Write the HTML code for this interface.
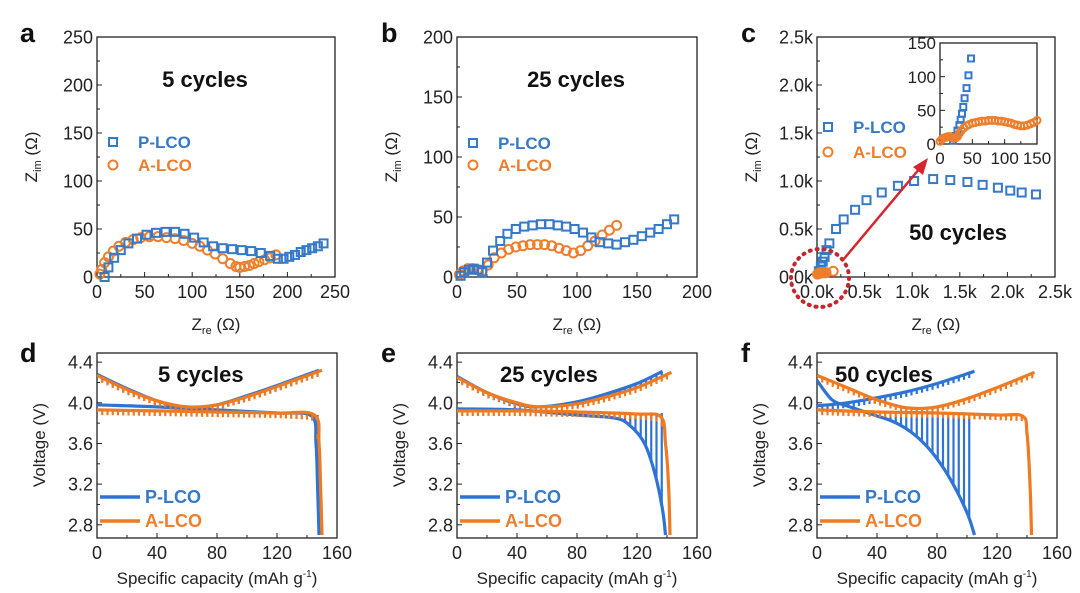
<!DOCTYPE html>
<html><head><meta charset="utf-8"><style>
html,body{margin:0;padding:0;background:#fff;}
svg{display:block;font-family:"Liberation Sans",Arial,sans-serif;}
</style></head><body>
<svg id="fig" width="1080" height="593" viewBox="0 0 1080 593" xmlns="http://www.w3.org/2000/svg">
<rect width="1080" height="593" fill="#fff"/>
</svg>
<script>
// ---------- DATA ----------
// Panel a (5 cycles EIS)
const aPx=[8,12,18,25,33,42,52,62,72,82,92,102,112,122,132,142,152,162,172,182,190,196,202,208,214,220,226,232,238];
const aPy=[0,10,20,28,35,40,44,46,47,47,45,41,36,32,30,29,28,27,25,22,19,19,21,23,26,28,30,32,35];
const aAx=[3,5,8,12,17,23,30,38,46,55,64,73,82,91,100,108,116,124,132,140,146,150,155,160,165,170,176,182,188];
const aAy=[3,8,15,21,27,32,36,39,41,42,42,41,40,38,35,32,28,24,19,14,11,10,11,12,14,16,18,20,23];
// Panel b (25 cycles EIS)
const bPx=[3,6,10,14,18,21,25,30,36,42,49,56,63,70,77,84,91,98,105,112,119,126,133,140,147,154,161,168,175,181];
const bPy=[1,4,6,7,6,4,12,22,30,36,40,42,43,44,44,43,42,40,37,33,29,28,27,29,31,34,37,40,44,48];
const bAx=[2,5,9,13,17,21,26,31,37,43,49,55,61,67,73,79,85,91,97,103,109,115,121,127,133];
const bAy=[2,5,7,7,6,5,10,16,20,23,25,26,27,27,27,26,24,22,20,22,26,30,35,39,43];
// Panel c (50 cycles EIS, main)
const cPx=[20,40,60,80,100,130,200,280,400,520,680,850,1020,1220,1400,1580,1740,1900,2030,2150,2300];
const cPy=[60,110,160,210,280,350,500,600,700,800,880,950,1000,1020,1010,990,960,930,900,880,860];
const cAx=[5,15,25,35,45,55,65,75,85,95,170];
const cAy=[30,35,40,45,45,45,45,45,45,45,60];
// Panel c inset
const iPx=[20,24,27,30,32,34,36,38,41,44,48];
const iPy=[5,12,20,28,36,45,55,68,83,102,127];
const iAx=[0,3,6,9,12,15,18,21,24,27,30,33,37,41,45,50,55,60,65,70,75,80,85,90,95,100,105,110,115,120,125,130,135,140,145,150];
const iAy=[4,7,9,10,11,11,10,9,9,11,16,20,24,27,29,31,32,33,34,34,35,35,35,34,34,33,32,31,29,28,27,27,28,30,32,35];
// Panel d (5 cycles GITT)
const dBuX=[0,20,40,60,80,100,120,148], dBuY=[4.28,4.14,4.02,3.95,3.98,4.07,4.17,4.32];
const dBfX=[0,40,80,120,143,146,147,148], dBfY=[3.98,3.96,3.93,3.9,3.87,3.6,3.2,2.7];
const dAuX=[0,20,40,60,80,100,120,150], dAuY=[4.27,4.13,4.02,3.96,3.98,4.06,4.16,4.32];
const dAfX=[0,40,80,120,145,148,149,150], dAfY=[3.93,3.92,3.91,3.9,3.88,3.6,3.2,2.7];
// Panel e (25 cycles GITT)
const eBuX=[0,20,40,55,80,100,120,137], eBuY=[4.26,4.1,3.99,3.96,4.01,4.09,4.19,4.31];
const eBfX=[0,40,80,105,115,125,132,137,139], eBfY=[3.94,3.93,3.88,3.85,3.78,3.6,3.3,2.95,2.7];
const eAuX=[0,20,40,55,80,100,120,143], eAuY=[4.25,4.1,4.0,3.96,3.99,4.06,4.15,4.3];
const eAfX=[0,40,80,120,136,139,141,142], eAfY=[3.92,3.92,3.91,3.89,3.86,3.6,3.2,2.7];
// Panel f (50 cycles GITT)
const fBuX=[0,20,40,60,80,105], fBuY=[3.97,4.0,4.05,4.11,4.19,4.31];
const fBfX=[0,10,20,30,40,50,60,70,80,90,100,105], fBfY=[4.22,4.03,3.97,3.92,3.87,3.82,3.74,3.62,3.45,3.22,2.92,2.7];
const fAuX=[0,20,40,60,80,100,120,145], fAuY=[4.27,4.15,4.03,3.95,3.96,4.04,4.15,4.3];
const fAfX=[0,40,80,120,137,140,142,143], fAfY=[3.93,3.91,3.9,3.88,3.87,3.7,3.2,2.7];
const gittXT=[0,40,80,120,160];
const gittXL=["0","40","80","120","160"];
const gittYT=[2.8,3.2,3.6,4.0,4.4];
const gittYL=["2.8","3.2","3.6","4.0","4.4"];
const relaxB=[3.88,3.9,3.86]; // relaxed OCV tips for discharge spikes (d,e,f) blue
// ---------- HELPERS ----------
const NS="http://www.w3.org/2000/svg", svg=document.getElementById('fig');
const BLUE="#3579c8", ORANGE="#ee7e2d", LB="#2f74d4", LO="#ee7a22";
function el(tag,at,parent){const e=document.createElementNS(NS,tag);for(const k in at)e.setAttribute(k,at[k]);(parent||svg).appendChild(e);return e;}
function txt(s,x,y,size,opt){opt=opt||{};const t=el('text',{x:x,y:y,'font-size':size,fill:opt.fill||'#111','text-anchor':opt.anchor||'start','font-weight':opt.bold?'bold':'normal'});if(opt.rot)t.setAttribute('transform','rotate(-90 '+x+' '+y+')');t.textContent=s;return t;}
function scale(d0,d1,p0,p1){return v=>p0+(v-d0)/(d1-d0)*(p1-p0);}
function interp(xs,ys,x){for(let i=1;i<xs.length;i++){if(x<=xs[i]){const t=(x-xs[i-1])/(xs[i]-xs[i-1]);return ys[i-1]+t*(ys[i]-ys[i-1]);}}return ys[ys.length-1];}
function axes(name,L,R,T,B,sx,sy,xt,xl,yt,yl,fs,minorX,minorY){
  const g=el('g',{});
  
  
  el('rect',{x:L,y:T,width:R-L,height:B-T,fill:'none',stroke:'#222','stroke-width':1.3},g);
  xt.forEach((v,i)=>{const x=sx(v);el('line',{x1:x,y1:B,x2:x,y2:B-5,stroke:'#222'},g);const t=txt(xl[i],x,B+fs+3,fs,{anchor:'middle',fill:'#222'});});
  yt.forEach((v,i)=>{const y=sy(v);el('line',{x1:L,y1:y,x2:L+5,y2:y,stroke:'#222'},g);const t=txt(yl[i],L-4,y+fs*0.36,fs,{anchor:'end',fill:'#222'});});
  if(minorX)for(let i=0;i<xt.length-1;i++){const x=sx((xt[i]+xt[i+1])/2);el('line',{x1:x,y1:B,x2:x,y2:B-3,stroke:'#222'},g);}
  if(minorY)for(let i=0;i<yt.length-1;i++){const y=sy((yt[i]+yt[i+1])/2);el('line',{x1:L,y1:y,x2:L+3,y2:y,stroke:'#222'},g);}
}
function squares(name,xs,ys,sx,sy,s){const g=el('g',{});xs.forEach((v,i)=>{el('rect',{x:sx(v)-s/2,y:sy(ys[i])-s/2,width:s,height:s,fill:'none',stroke:BLUE,'stroke-width':2},g);});}
function circles(name,xs,ys,sx,sy,r){const g=el('g',{});xs.forEach((v,i)=>{el('circle',{cx:sx(v),cy:sy(ys[i]),r:r,fill:'none',stroke:ORANGE,'stroke-width':2},g);});}
function smoothPath(P){let d='M'+P[0][0].toFixed(1)+' '+P[0][1].toFixed(1);for(let i=0;i<P.length-1;i++){const p0=P[Math.max(0,i-1)],p1=P[i],p2=P[i+1],p3=P[Math.min(P.length-1,i+2)];const c1=[p1[0]+(p2[0]-p0[0])/6,p1[1]+(p2[1]-p0[1])/6],c2=[p2[0]-(p3[0]-p1[0])/6,p2[1]-(p3[1]-p1[1])/6];d+='C'+c1.map(v=>v.toFixed(1)).join(' ')+' '+c2.map(v=>v.toFixed(1)).join(' ')+' '+p2[0].toFixed(1)+' '+p2[1].toFixed(1);}return d;}
function line(name,xs,ys,sx,sy,col,w){const P=xs.map((v,i)=>[sx(v),sy(ys[i])]);const p=el('path',{d:smoothPath(P),fill:'none',stroke:col,'stroke-width':w||3.2,'stroke-linejoin':'round'});}
function spikes(name,xs,ys,sx,sy,col,step,tip,down,xmax){const g=el('g',{});for(let c=step;c<xmax;c+=step){const v=interp(xs,ys,c);const v2=tip===null?v+(down?-0.05:0.05):Math.max(tip,v);el('line',{x1:sx(c),y1:sy(v),x2:sx(c),y2:sy(v2),stroke:col,'stroke-width':2.2},g);}}
// ---------- PANEL LETTERS ----------
[['a',20,42],['b',381,42],['c',741,42],['d',20,362],['e',381,362],['f',741,362]].forEach(p=>{const t=txt(p[0],p[1],p[2],27,{bold:true});});
// ---------- EIS PANELS ----------
function eisTitles(name,L,R,T,B){
  const cx=(L+R)/2;
  const t=el('text',{x:cx,y:B+53,'font-size':17,'text-anchor':'middle',fill:'#222'});
  
  t.innerHTML='Z<tspan font-size="11" dy="4">re</tspan><tspan dy="-4"> (Ω)</tspan>';
  const cy=(T+B)/2, x=L-60;
  const t2=el('text',{x:x,y:cy,'font-size':17,'text-anchor':'middle',fill:'#222',transform:'rotate(-90 '+x+' '+cy+')'});
  
  t2.innerHTML='Z<tspan font-size="11" dy="4">im</tspan><tspan dy="-4"> (Ω)</tspan>';
}
function eisLegend(name,x,y1,y2){
  const g=el('g',{});
  el('rect',{x:x-4,y:y1-4,width:8,height:8,fill:'none',stroke:BLUE,'stroke-width':2},g);
  el('circle',{cx:x,cy:y2,r:4.5,fill:'none',stroke:ORANGE,'stroke-width':2},g);
  const t1=txt('P-LCO',x+25,y1+6,17,{bold:true,fill:BLUE});
  const t2=txt('A-LCO',x+25,y2+6,17,{bold:true,fill:ORANGE});
}
// a
{const L=97,R=335,T=37,B=277;const sx=scale(0,250,L,R),sy=scale(0,250,B,T);
 axes('panel-a',L,R,T,B,sx,sy,[0,50,100,150,200,250],["0","50","100","150","200","250"],[0,50,100,150,200,250],["0","50","100","150","200","250"],18,true,true);
 circles('a-lco-series',aAx,aAy,sx,sy,4.5);squares('p-lco-series',aPx,aPy,sx,sy,8);
 eisTitles('panel-a',L,R,T,B);eisLegend('panel-a',113,142,165);
 const t=txt('5 cycles',205,87,22,{bold:true,anchor:'middle'});}
// b
{const L=457,R=697,T=37,B=277;const sx=scale(0,200,L,R),sy=scale(0,200,B,T);
 axes('panel-b',L,R,T,B,sx,sy,[0,50,100,150,200],["0","50","100","150","200"],[0,50,100,150,200],["0","50","100","150","200"],18,true,true);
 circles('a-lco-series',bAx,bAy,sx,sy,4.5);squares('p-lco-series',bPx,bPy,sx,sy,8);
 eisTitles('panel-b',L,R,T,B);eisLegend('panel-b',473,143,165);
 const t=txt('25 cycles',576,87,22,{bold:true,anchor:'middle'});}
// c
{const L=817,R=1055,T=37,B=277;const sx=scale(0,2500,L,R),sy=scale(0,2500,B,T);
 const tk=[0,500,1000,1500,2000,2500],tl=["0.0k","0.5k","1.0k","1.5k","2.0k","2.5k"];
 axes('panel-c',L,R,T,B,sx,sy,tk,tl,tk,tl,18,true,true);
 squares('p-lco-series',cPx,cPy,sx,sy,8);circles('a-lco-series',cAx,cAy,sx,sy,4.5);
 eisTitles('panel-c',L,R,T,B);eisLegend('panel-c',828,127,152);
 const t=txt('50 cycles',958,240,22,{bold:true,anchor:'middle'});
 const z=el('circle',{cx:820,cy:278,r:29,fill:'none',stroke:'#c0282d','stroke-width':4,'stroke-dasharray':'1 6','stroke-linecap':'round'});
 const ar=el('line',{x1:843,y1:260,x2:920,y2:168,stroke:'#d6262b','stroke-width':2.5});
 el('path',{d:'M928 158 L913 167 L923 175 Z',fill:'#d6262b'});
 // inset
 const iL=940,iR=1037,iT=43,iB=144;const ix=scale(0,150,iL,iR),iy=scale(0,150,iB,iT);
 el('rect',{x:iL,y:iT,width:iR-iL,height:iB-iT,fill:'#fff'});
 axes('inset',iL,iR,iT,iB,ix,iy,[0,50,100,150],["0","50","100","150"],[0,50,100,150],["0","50","100","150"],17,true,true);
 squares('inset-p-lco-series',iPx,iPy,ix,iy,6);circles('inset-a-lco-series',iAx,iAy,ix,iy,3.5);}
// ---------- GITT PANELS ----------
function gitt(name,L,title,titleX,BuX,BuY,BfX,BfY,AuX,AuY,AfX,AfY,tipB,spB){
  const R=L+240,T=353,B=538;const sx=scale(0,160,L,R),sy=scale(2.67,4.49,B,T);
  const cp=el('clipPath',{id:'cl'+name});el('rect',{x:L,y:T,width:R-L,height:B-T},cp);
  axes(name,L,R,T,B,sx,sy,gittXT,gittXL,gittYT,gittYL,18,true,true);
  const g=el('g',{'clip-path':'url(#cl'+name+')'});
  const add=(fn)=>{const before=svg.childNodes.length;fn();while(svg.childNodes.length>before){g.appendChild(svg.childNodes[before]);}};
  add(()=>{
    spikes(name+'-p-lco-charge-relax',BuX,BuY,sx,sy,LB,3.5,null,true,BuX[BuX.length-1]);
    spikes(name+'-p-lco-discharge-relax',BfX,BfY,sx,sy,LB,spB,tipB,false,BfX[BfX.length-1]);
    line(name+'-p-lco-charge',BuX,BuY,sx,sy,LB);line(name+'-p-lco-discharge',BfX,BfY,sx,sy,LB);
    spikes(name+'-a-lco-charge-relax',AuX,AuY,sx,sy,LO,3.5,null,true,AuX[AuX.length-1]);
    spikes(name+'-a-lco-discharge-relax',AfX,AfY,sx,sy,LO,3.5,null,true,AfX[AfX.length-3]);
    line(name+'-a-lco-charge',AuX,AuY,sx,sy,LO);line(name+'-a-lco-discharge',AfX,AfY,sx,sy,LO);
  });
  const t=txt(title,titleX,382,22,{bold:true});
  const lg=el('g',{});
  el('line',{x1:L+3,y1:497,x2:L+43,y2:497,stroke:LB,'stroke-width':3.5},lg);
  el('line',{x1:L+3,y1:521,x2:L+43,y2:521,stroke:LO,'stroke-width':3.5},lg);
  const l1=txt('P-LCO',L+48,503,18,{bold:true,fill:BLUE});
  const l2=txt('A-LCO',L+48,527,18,{bold:true,fill:ORANGE});
  const xt=el('text',{x:L+120,y:584,'font-size':17,'text-anchor':'middle',fill:'#222'});
  
  xt.innerHTML='Specific capacity (mAh g<tspan font-size="10" dy="-7">-1</tspan><tspan dy="7">)</tspan>';
  const yx=L-52,yc=445;
  const yt=txt('Voltage (V)',yx,yc,17,{anchor:'middle',fill:'#222',rot:true});
}
gitt('panel-d',97,'5 cycles',158,dBuX,dBuY,dBfX,dBfY,dAuX,dAuY,dAfX,dAfY,relaxB[0],3.5);
gitt('panel-e',457,'25 cycles',500,eBuX,eBuY,eBfX,eBfY,eAuX,eAuY,eAfX,eAfY,relaxB[1],3.5);
gitt('panel-f',817,'50 cycles',835,fBuX,fBuY,fBfX,fBfY,fAuX,fAuY,fAfX,fAfY,relaxB[2],3.5);
</script>
</body></html>
